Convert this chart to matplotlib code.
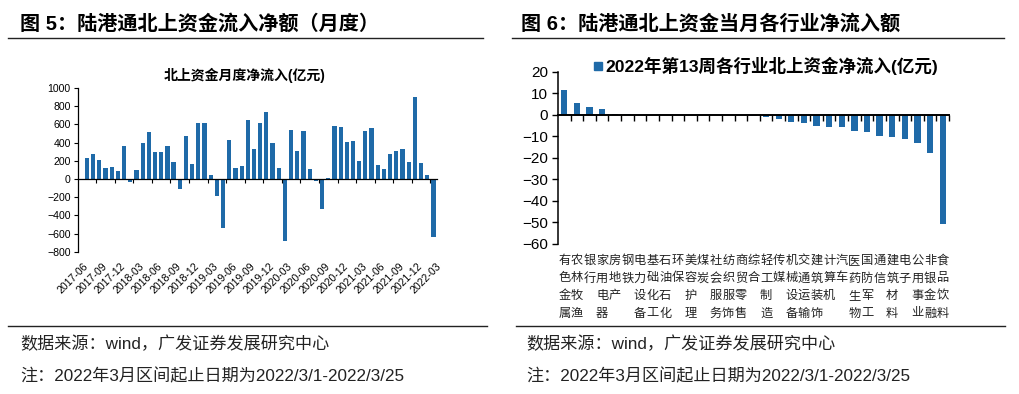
import numpy as np
import matplotlib
matplotlib.use("Agg")
import matplotlib.pyplot as plt
from matplotlib.lines import Line2D
from matplotlib.patches import Rectangle
from matplotlib.transforms import blended_transform_factory

plt.rcParams["font.family"] = ["Liberation Sans", "Noto Sans CJK SC"]
plt.rcParams["axes.linewidth"] = 0.9

BLUE = "#1f6aa8"
W, H = 1019, 394

# ---- data: monthly northbound net inflow (100m CNY), 2017-06 .. 2022-03
month_ticks = [
    "2017-06", "2017-09", "2017-12", "2018-03", "2018-06", "2018-09", "2018-12",
    "2019-03", "2019-06", "2019-09", "2019-12", "2020-03", "2020-06", "2020-09",
    "2020-12", "2021-03", "2021-06", "2021-09", "2021-12", "2022-03",
]
monthly_flow = [
    0, 231, 275, 209, 125, 132, 92, 359, -29, 103, 392, 513, 293, 293, 359,
    183, -110, 477, 169, 612, 612, 44, -183, -539, 433, 125, 139, 653, 330,
    612, 737, 392, 117, -686, 535, 308, 528, 106, -22, -330, 5, 583, 576, 407,
    418, 194, 528, 557, 154, 110, 271, 308, 334, 187, 898, 172, 44, -642,
]

# ---- data: week 13 of 2022, northbound net inflow by industry (100m CNY)
industries = [
    "有色金属", "农林牧渔", "银行", "家用电器", "房地产", "钢铁", "电力设备",
    "基础化工", "石油石化", "环保", "美容护理", "煤炭", "社会服务", "纺织服饰",
    "商贸零售", "综合", "轻工制造", "传媒", "机械设备", "交通运输", "建筑装饰",
    "计算机", "汽车", "医药生物", "国防军工", "通信", "建筑材料", "电子",
    "公用事业", "非银金融", "食品饮料",
]
industry_flow = [
    11.5, 5.5, 3.7, 2.8, 0.2, 0.2, 0.1, 0.1, 0.0, 0.0, -0.1, -0.1, -0.2, -0.2,
    -0.3, -0.6, -1.1, -2.0, -3.4, -3.8, -5.1, -5.8, -5.8, -7.7, -8.0, -10.0,
    -10.3, -11.2, -13.1, -17.7, -50.7,
]


def box(x0, y0, x1, y1):
    """pixel box (top-left origin) -> figure rect"""
    return [x0 / W, 1 - y1 / H, (x1 - x0) / W, (y1 - y0) / H]


def hline(fig, x0, x1, y, lw=1.0):
    fig.add_artist(Line2D([x0 / W, x1 / W], [1 - y / H, 1 - y / H],
                          color="#222222", lw=lw))


fig = plt.figure(figsize=(W / 100, H / 100), dpi=100, facecolor="white")

# headers
fig.text(20 / W, 1 - 24 / H, "图 5：陆港通北上资金流入净额（月度）",
         fontsize=14.5, fontweight="bold", va="center")
fig.text(521 / W, 1 - 24 / H, "图 6：陆港通北上资金当月各行业净流入额",
         fontsize=14.5, fontweight="bold", va="center")
hline(fig, 8, 483, 38)
hline(fig, 512, 1004, 38)

# footers
hline(fig, 8, 487, 326)
hline(fig, 516, 1005, 326)
for x in (20, 526):
    fig.text(x / W, 1 - 344 / H, "数据来源：wind，广发证券发展研究中心",
             fontsize=12.3, va="center", color="#222222")
    fig.text(x / W, 1 - 376 / H, "注：2022年3月区间起止日期为2022/3/1-2022/3/25",
             fontsize=12.3, va="center", color="#222222")

# ---------------- left chart
ax1 = fig.add_axes(box(77.7, 88, 436.5, 251.7))
ax1.bar(np.arange(len(monthly_flow)), monthly_flow, width=0.68, color=BLUE)
ax1.set_xlim(-0.5, len(monthly_flow) - 0.5)
ax1.set_ylim(-800, 1000)
ax1.set_yticks(np.arange(-800, 1001, 200))
ax1.tick_params(axis="y", labelsize=7.6, length=3, width=0.8, pad=2)
ax1.spines["top"].set_visible(False)
ax1.spines["right"].set_visible(False)
ax1.spines["bottom"].set_position(("data", 0))
ax1.set_xticks(np.arange(2.5, len(monthly_flow) - 1, 3))
ax1.set_xticklabels([])
ax1.tick_params(axis="x", length=3, width=0.8, direction="out")
trans1 = blended_transform_factory(ax1.transData, ax1.transAxes)
for i, lab in zip(range(0, len(monthly_flow), 3), month_ticks):
    ax1.text(i + 0.4, -0.06, lab, rotation=45, rotation_mode="anchor",
             ha="right", va="top", fontsize=7.6, transform=trans1)
fig.text(245 / W, 1 - 75 / H, "北上资金月度净流入(亿元)", ha="center",
         va="center", fontsize=10, fontweight="bold")

# ---------------- right chart
ax2 = fig.add_axes(box(558, 71.7, 949, 244))
ax2.bar(np.arange(len(industry_flow)), industry_flow, width=0.5, color=BLUE)
ax2.set_xlim(-0.5, len(industry_flow) - 0.5)
ax2.set_ylim(-60, 20)
ax2.set_yticks(np.arange(-60, 21, 10))
ax2.tick_params(axis="y", labelsize=11, length=4, width=1.0, pad=3)
ax2.spines["top"].set_visible(False)
ax2.spines["right"].set_visible(False)
ax2.spines["left"].set_linewidth(1.1)
ax2.spines["bottom"].set_linewidth(1.4)
ax2.spines["bottom"].set_position(("data", 0))
ax2.set_xticks(np.arange(0.5, len(industry_flow), 1))
ax2.set_xticklabels([])
ax2.tick_params(axis="x", length=4, width=1.0, direction="out")
trans2 = blended_transform_factory(ax2.transData, fig.transFigure)
row_y = [261, 278.5, 296, 313.5]
for i, name in enumerate(industries):
    for j, ch in enumerate(name):
        ax2.text(i, 1 - row_y[j] / H, ch, ha="center", va="center",
                 fontsize=8.8, color="#222222", transform=trans2)

# legend
fig.add_artist(Rectangle((594 / W, 1 - 70 / H), 8 / W, 8 / H,
                         transform=fig.transFigure, color=BLUE))
fig.text(605 / W, 1 - 66 / H, "2022年第13周各行业北上资金净流入(亿元)",
         fontsize=12.6, fontweight="bold", va="center")

fig.savefig("out.png", dpi=100, facecolor="white")
